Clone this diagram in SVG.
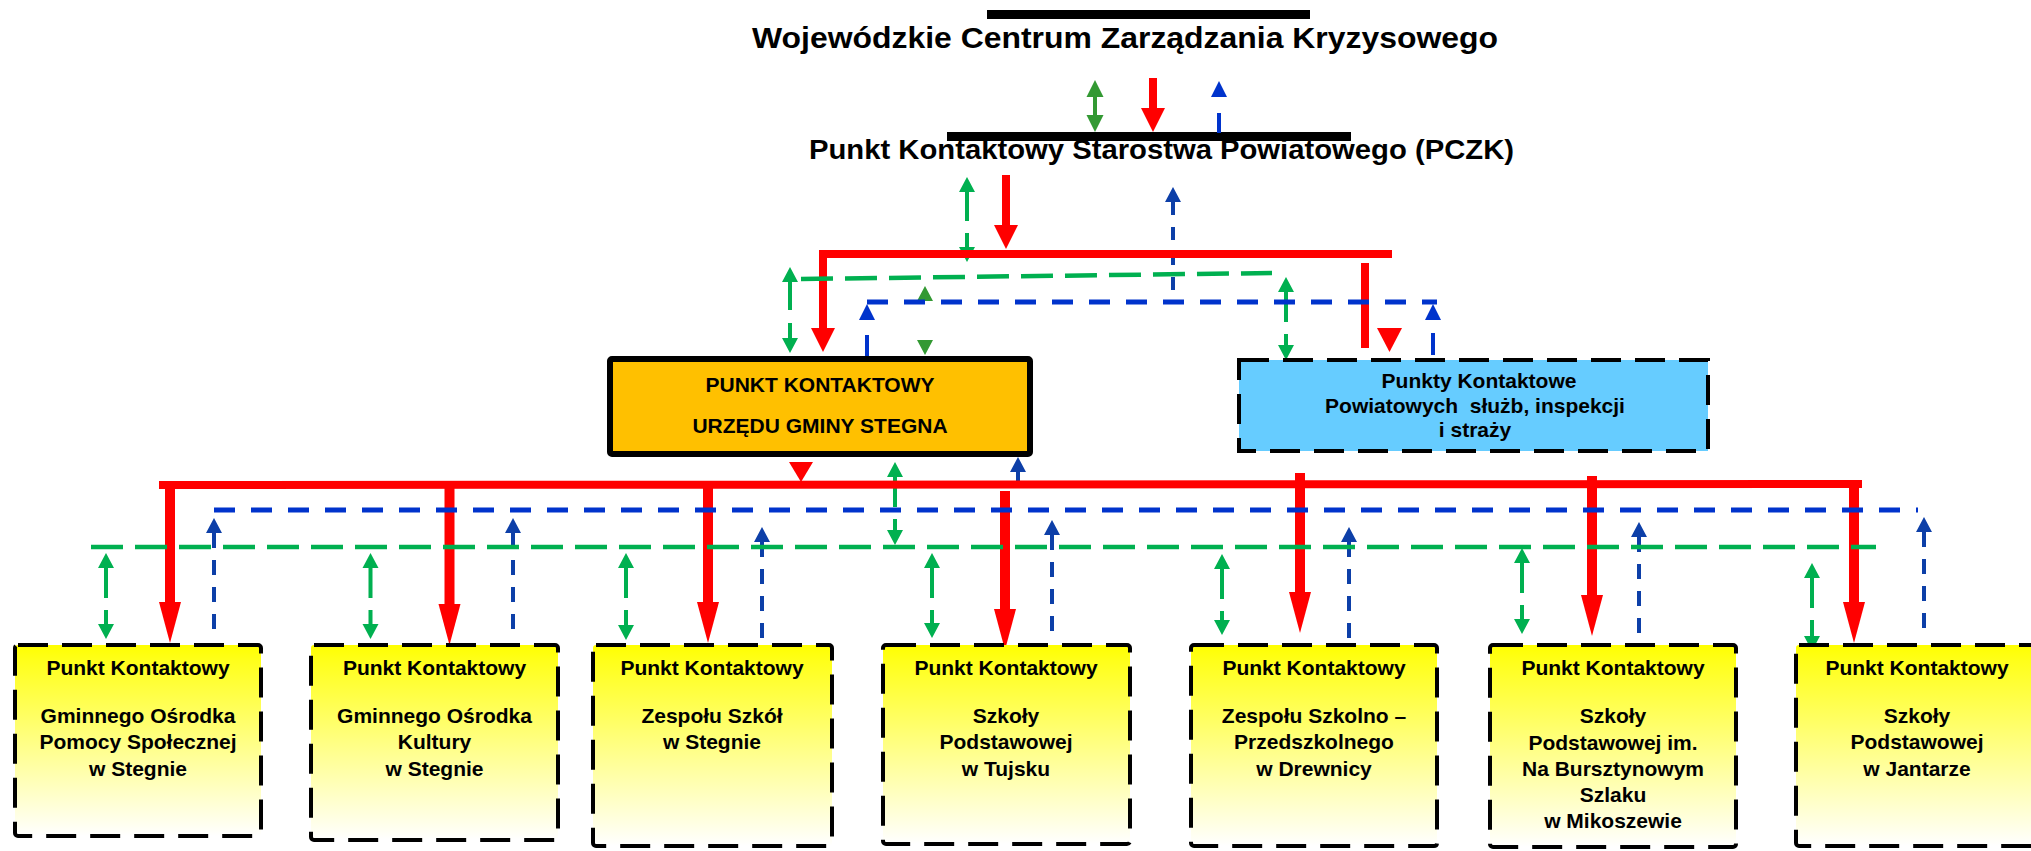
<svg xmlns="http://www.w3.org/2000/svg" width="2031" height="851" viewBox="0 0 2031 851">
<style>
.t{font-family:"Liberation Sans",Arial,sans-serif;font-weight:bold;fill:#000}
.c{text-anchor:middle}
.bx{font-size:21px}
.ybox{fill:url(#yg);stroke:#000;stroke-width:4;stroke-dasharray:30 14}
.red{fill:none;stroke:#FF0000;stroke-width:10}
.redh{fill:none;stroke:#FF0000;stroke-width:8}
.grn{fill:none;stroke:#00B050;stroke-width:4}
.grnd{fill:none;stroke:#00B050;stroke-width:4;stroke-dasharray:30 12}
.grnh{fill:none;stroke:#00B050;stroke-width:4.5;stroke-dasharray:32 12}
.blu{fill:none;stroke:#0D3FA8;stroke-width:4;stroke-dasharray:15 12}
.bluh{fill:none;stroke:#0033CC;stroke-width:5;stroke-dasharray:21 16}
</style>
<defs>
<linearGradient id="yg" x1="0" y1="0" x2="0" y2="1">
<stop offset="0" stop-color="#FFFF00"/>
<stop offset="0.08" stop-color="#FFFF1A"/>
<stop offset="1" stop-color="#FFFFFF"/>
</linearGradient>
<marker id="mR" markerUnits="userSpaceOnUse" markerWidth="42" markerHeight="24" refX="0" refY="11" orient="auto" overflow="visible"><path d="M0,0 L41,11 L0,22 Z" fill="#FF0000"/></marker>
<marker id="mRs" markerUnits="userSpaceOnUse" markerWidth="25" markerHeight="25" refX="0" refY="12" orient="auto" overflow="visible"><path d="M0,0 L24,12 L0,24 Z" fill="#FF0000"/></marker>
<marker id="mG" markerUnits="userSpaceOnUse" markerWidth="16" markerHeight="16" refX="0" refY="8" orient="auto-start-reverse" overflow="visible"><path d="M0,0 L15,8 L0,16 Z" fill="#00B050"/></marker>
<marker id="mGd" markerUnits="userSpaceOnUse" markerWidth="18" markerHeight="18" refX="0" refY="8.5" orient="auto-start-reverse" overflow="visible"><path d="M0,0 L17,8.5 L0,17 Z" fill="#339933"/></marker>
<marker id="mB" markerUnits="userSpaceOnUse" markerWidth="16" markerHeight="16" refX="0" refY="8" orient="auto-start-reverse" overflow="visible"><path d="M0,0 L15,8 L0,16 Z" fill="#0D3FA8"/></marker>
<marker id="mBb" markerUnits="userSpaceOnUse" markerWidth="16" markerHeight="16" refX="0" refY="8" orient="auto-start-reverse" overflow="visible"><path d="M0,0 L16,8 L0,16 Z" fill="#0033CC"/></marker>
</defs>
<rect width="2031" height="851" fill="#FFFFFF"/>

<g id="wczk">
<rect x="987" y="10" width="323" height="9" fill="#000"/>
<text class="t" x="752" y="48" font-size="29" textLength="746" lengthAdjust="spacingAndGlyphs">Wojewódzkie Centrum Zarządzania Kryzysowego</text>
</g>

<g id="pczk">
<rect x="947" y="132" width="404" height="9" fill="#000"/>
<text class="t" x="809" y="159" font-size="27" textLength="705" lengthAdjust="spacingAndGlyphs">Punkt Kontaktowy Starostwa Powiatowego (PCZK)</text>
</g>

<g id="connectors">
<!-- top: WCZK <-> PCZK -->
<path d="M1095,97 L1095,115" fill="none" stroke="#339933" stroke-width="4" marker-start="url(#mGd)" marker-end="url(#mGd)"/>
<path d="M1153,78 L1153,108" class="redh" marker-end="url(#mRs)"/>
<path d="M1219,97 L1219,133" fill="none" stroke="#0033CC" stroke-width="4" stroke-dasharray="0 16 20" marker-start="url(#mBb)"/>

<!-- PCZK -> level 2 -->
<path d="M967,192 L967,247" class="grn" stroke-dasharray="29 12" marker-start="url(#mG)" marker-end="url(#mG)"/>
<path d="M1006,175 L1006,225" class="redh" marker-end="url(#mRs)"/>
<path d="M1173,202 L1173,302" fill="none" stroke="#0D3FA8" stroke-width="4" stroke-dasharray="13 12" marker-start="url(#mB)"/>
<path d="M1392,254 L823,254 L823,328" class="redh" marker-end="url(#mRs)"/>
<path d="M1365,263 L1365,348" class="redh"/>
<polygon points="1377,328 1402,328 1389.5,352" fill="#FF0000"/>
<path d="M801,279 L1272,273" class="grnh" stroke-width="5"/>
<path d="M790,282 L790,338" class="grn" stroke-dasharray="28 13" marker-start="url(#mG)" marker-end="url(#mG)"/>
<path d="M1286,292 L1286,345" class="grn" stroke-dasharray="30 12" marker-start="url(#mG)" marker-end="url(#mG)"/>
<polygon points="917,301 933,301 925,286" fill="#339933"/>
<polygon points="917,340 933,340 925,355" fill="#339933"/>
<path d="M867,302 L1437,302" class="bluh"/>
<path d="M867,320 L867,357" fill="none" stroke="#0033CC" stroke-width="4" stroke-dasharray="0 15 22" marker-start="url(#mBb)"/>
<path d="M1433,320 L1433,355" fill="none" stroke="#0033CC" stroke-width="4" stroke-dasharray="0 13 22" marker-start="url(#mBb)"/>

<!-- gmina -> units -->
<polygon points="789,462 813,462 801,482" fill="#FF0000"/>
<path d="M895,477 L895,530" class="grn" stroke-dasharray="30 12" marker-start="url(#mG)" marker-end="url(#mG)"/>
<path d="M1018,472 L1018,485" fill="none" stroke="#0D3FA8" stroke-width="4" marker-start="url(#mB)"/>
<path d="M159,485 L1862,484" class="redh"/>
<path d="M170,481 L170,602" class="red" marker-end="url(#mR)"/>
<path d="M449.5,485 L449.5,604" class="red" marker-end="url(#mR)"/>
<path d="M708,485 L708,602" class="red" marker-end="url(#mR)"/>
<path d="M1005,491 L1005,609" class="red" marker-end="url(#mR)"/>
<path d="M1300,473 L1300,592" class="red" marker-end="url(#mR)"/>
<path d="M1592,476 L1592,595" class="red" marker-end="url(#mR)"/>
<path d="M1854,480 L1854,602" class="red" marker-end="url(#mR)"/>

<path d="M214,510 L1918,510" class="bluh"/>
<path d="M214,533 L214,632" class="blu" marker-start="url(#mB)"/>
<path d="M513,533 L513,632" class="blu" marker-start="url(#mB)"/>
<path d="M762,542 L762,640" class="blu" marker-start="url(#mB)"/>
<path d="M1052,535 L1052,632" class="blu" marker-start="url(#mB)"/>
<path d="M1349,542 L1349,640" class="blu" marker-start="url(#mB)"/>
<path d="M1639,537 L1639,635" class="blu" marker-start="url(#mB)"/>
<path d="M1924,532 L1924,630" class="blu" marker-start="url(#mB)"/>

<path d="M91,547 L1876,547" class="grnh"/>
<path d="M106,568 L106,624" class="grnd" marker-start="url(#mG)" marker-end="url(#mG)"/>
<path d="M370.5,568 L370.5,624" class="grnd" marker-start="url(#mG)" marker-end="url(#mG)"/>
<path d="M626,568 L626,625" class="grnd" marker-start="url(#mG)" marker-end="url(#mG)"/>
<path d="M932,568 L932,623" class="grnd" marker-start="url(#mG)" marker-end="url(#mG)"/>
<path d="M1222,569 L1222,620" class="grnd" marker-start="url(#mG)" marker-end="url(#mG)"/>
<path d="M1522,563 L1522,619" class="grnd" marker-start="url(#mG)" marker-end="url(#mG)"/>
<path d="M1812,578 L1812,636" class="grnd" marker-start="url(#mG)" marker-end="url(#mG)"/>
</g>

<g id="gmina">
<rect x="610" y="359" width="420" height="95" rx="2" fill="#FFC000" stroke="#000" stroke-width="6"/>
<text class="t c bx" x="820" y="392">PUNKT KONTAKTOWY</text>
<text class="t c bx" x="820" y="433">URZĘDU GMINY STEGNA</text>
</g>

<g id="powiat">
<rect x="1239" y="360" width="469" height="91" fill="#66CCFF" stroke="#000" stroke-width="4" stroke-dasharray="30 14"/>
<text class="t c bx" x="1479" y="388">Punkty Kontaktowe</text>
<text class="t c bx" x="1475" y="413" style="white-space:pre">Powiatowych  służb, inspekcji</text>
<text class="t c bx" x="1475" y="437">i straży</text>
</g>

<g id="gops">
<rect class="ybox" x="15" y="645" width="246" height="191" rx="3"/>
<text class="t c bx" x="138" y="675">Punkt Kontaktowy</text>
<text class="t c bx" x="138" y="723">Gminnego Ośrodka</text>
<text class="t c bx" x="138" y="749">Pomocy Społecznej</text>
<text class="t c bx" x="138" y="776">w Stegnie</text>
</g>

<g id="gok">
<rect class="ybox" x="311" y="645" width="247" height="195" rx="3"/>
<text class="t c bx" x="434.5" y="675">Punkt Kontaktowy</text>
<text class="t c bx" x="434.5" y="723">Gminnego Ośrodka</text>
<text class="t c bx" x="434.5" y="749">Kultury</text>
<text class="t c bx" x="434.5" y="776">w Stegnie</text>
</g>

<g id="zss">
<rect class="ybox" x="593" y="645" width="239" height="201" rx="3"/>
<text class="t c bx" x="712" y="675">Punkt Kontaktowy</text>
<text class="t c bx" x="712" y="723">Zespołu Szkół</text>
<text class="t c bx" x="712" y="749">w Stegnie</text>
</g>

<g id="sp-tujsk">
<rect class="ybox" x="883" y="645" width="247" height="199" rx="3"/>
<text class="t c bx" x="1006" y="675">Punkt Kontaktowy</text>
<text class="t c bx" x="1006" y="723">Szkoły</text>
<text class="t c bx" x="1006" y="749">Podstawowej</text>
<text class="t c bx" x="1006" y="776">w Tujsku</text>
</g>

<g id="zsp-drewnica">
<rect class="ybox" x="1191" y="645" width="246" height="201" rx="3"/>
<text class="t c bx" x="1314" y="675">Punkt Kontaktowy</text>
<text class="t c bx" x="1314" y="723">Zespołu Szkolno –</text>
<text class="t c bx" x="1314" y="749">Przedszkolnego</text>
<text class="t c bx" x="1314" y="776">w Drewnicy</text>
</g>

<g id="sp-mikoszewo">
<rect class="ybox" x="1490" y="645" width="246" height="202" rx="3"/>
<text class="t c bx" x="1613" y="675">Punkt Kontaktowy</text>
<text class="t c bx" x="1613" y="723">Szkoły</text>
<text class="t c bx" x="1613" y="750">Podstawowej im.</text>
<text class="t c bx" x="1613" y="776">Na Bursztynowym</text>
<text class="t c bx" x="1613" y="802">Szlaku</text>
<text class="t c bx" x="1613" y="828">w Mikoszewie</text>
</g>

<g id="sp-jantar">
<rect class="ybox" x="1796" y="645" width="240" height="201" rx="3"/>
<text class="t c bx" x="1917" y="675">Punkt Kontaktowy</text>
<text class="t c bx" x="1917" y="723">Szkoły</text>
<text class="t c bx" x="1917" y="749">Podstawowej</text>
<text class="t c bx" x="1917" y="776">w Jantarze</text>
</g>
</svg>
